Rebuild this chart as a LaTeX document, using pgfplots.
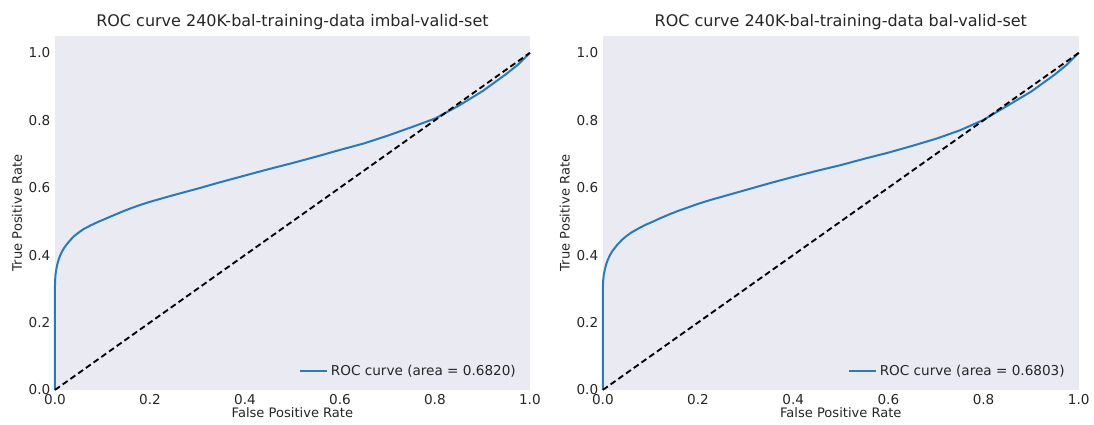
\documentclass[border=0pt]{standalone}
\usepackage{pgfplots}
\pgfplotsset{compat=1.18}
\usepackage{fontspec}
\setmainfont{DejaVu Sans}
\definecolor{bgcol}{HTML}{EAEAF2}
\definecolor{roc}{HTML}{2A7AB9}
\definecolor{txt}{HTML}{262626}

\pgfplotstableread{
x y
0 0
0 0.31
0.0005 0.33
0.001 0.34
0.002 0.352
0.0035 0.363
0.005 0.373
0.0075 0.386
0.011 0.399
0.015 0.411
0.02 0.423
0.03 0.441
0.04 0.456
0.05 0.467
0.06 0.477
0.075 0.488
0.09 0.498
0.1 0.504
0.12 0.516
0.14 0.528
0.16 0.539
0.18 0.549
0.2 0.558
0.225 0.568
0.25 0.578
0.3 0.597
0.35 0.617
0.4 0.636
0.45 0.655
0.5 0.673
0.55 0.692
0.6 0.712
0.65 0.731
0.7 0.754
0.75 0.779
0.8 0.805
0.82 0.820
0.85 0.843
0.9 0.886
0.95 0.937
0.975 0.965
1 1
}\leftroc

\pgfplotstableread{
x y
0 0
0 0.30
0.0005 0.32
0.001 0.33
0.002 0.342
0.0035 0.352
0.005 0.362
0.0075 0.375
0.011 0.388
0.015 0.40
0.02 0.412
0.03 0.43
0.04 0.445
0.05 0.457
0.06 0.467
0.075 0.479
0.09 0.49
0.1 0.496
0.12 0.509
0.14 0.521
0.16 0.532
0.18 0.542
0.2 0.552
0.225 0.563
0.25 0.573
0.3 0.593
0.35 0.613
0.4 0.632
0.45 0.650
0.5 0.667
0.55 0.686
0.6 0.704
0.65 0.724
0.7 0.745
0.75 0.770
0.8 0.801
0.82 0.818
0.85 0.843
0.9 0.885
0.95 0.936
0.975 0.965
1 1
}\rightroc

\pgfplotsset{
  rocstyle/.style={
    scale only axis,
    height=265.5pt,
    xmin=0, xmax=1, ymin=0, ymax=1.05,
    xtick={0,0.2,...,1.0}, ytick={0,0.2,...,1.0},
    xticklabel style={/pgf/number format/.cd,fixed,fixed zerofill,precision=1},
    yticklabel style={/pgf/number format/.cd,fixed,fixed zerofill,precision=1},
    /pgf/number format/assume math mode=true,
    major tick length=0pt,
    tick label style={font=\fontsize{10.2}{12}\selectfont, text=txt},
    axis line style={draw=none},
    axis background/.style={fill=bgcol},
    every axis title shift=0pt,
    title style={font=\fontsize{12}{14}\selectfont, text=txt, at={(0.5,1)}, anchor=base, inner sep=0pt, yshift=7pt},
    label style={font=\fontsize{9.8}{12}\selectfont, text=txt},
    xlabel={False Positive Rate},
    ylabel={True Positive Rate},
    xlabel style={at={(0.5,0)}, anchor=base, inner sep=0pt, yshift=-20.5pt},
    ylabel style={at={(0,0.5)}, anchor=center, inner sep=0pt, yshift=28.5pt},
    legend style={at={(0.985,0.02)}, anchor=south east, draw=none, fill=none,
      font=\fontsize{10.2}{12}\selectfont, text=txt},
    legend image code/.code={\draw[#1] (0cm,0cm) -- (0.72cm,0cm);},
    clip=false,
  }
}

\begin{document}
\begin{tikzpicture}
\path (0,0) rectangle (820.5pt,318.75pt);
\begin{axis}[rocstyle, width=356.25pt, at={(41.25pt,26.25pt)}, anchor=south west,
  title={ROC curve 240K-bal-training-data imbal-valid-set}]
\addplot[roc, line width=1.5pt, line join=round] table[x=x,y=y] {\leftroc};
\addlegendentry{ROC curve (area = 0.6820)}
\addplot[black, line width=1.4pt, dash pattern=on 4.5pt off 2.6pt, forget plot] coordinates {(0,0) (1,1)};
\end{axis}
\begin{axis}[rocstyle, width=357pt, at={(452.25pt,26.25pt)}, anchor=south west,
  title={ROC curve 240K-bal-training-data bal-valid-set}]
\addplot[roc, line width=1.5pt, line join=round] table[x=x,y=y] {\rightroc};
\addlegendentry{ROC curve (area = 0.6803)}
\addplot[black, line width=1.4pt, dash pattern=on 4.5pt off 2.6pt, forget plot] coordinates {(0,0) (1,1)};
\end{axis}
\end{tikzpicture}
\end{document}
